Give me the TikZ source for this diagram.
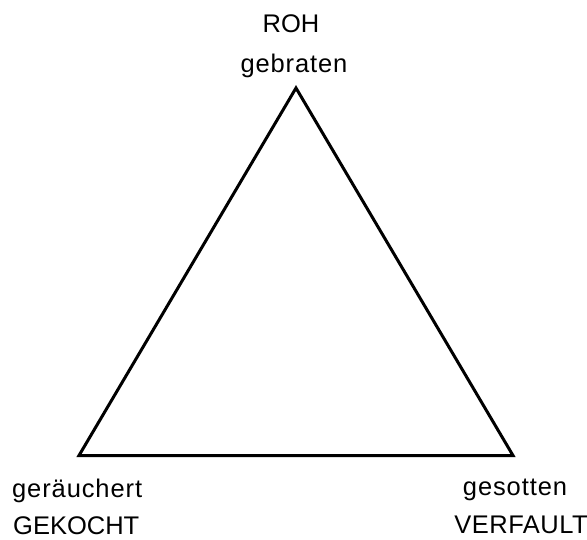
\documentclass[tikz,border=0pt]{standalone}
\usepackage{fontspec}
\setmainfont{Liberation Sans}
\begin{document}
\begin{tikzpicture}[x=1pt,y=-1pt,
  lbl/.style={inner sep=0pt,font=\fontsize{25.5}{30}\selectfont},
  lower/.style={lbl,font=\fontsize{25.5}{30}\selectfont\addfontfeature{LetterSpace=3.5}},
  tri/.style={line width=3pt,line join=miter}]
\useasboundingbox (0,0) rectangle (587,540);
\coordinate (A) at (296,88);
\coordinate (B) at (79,455.5);
\coordinate (C) at (513,455.5);
\draw[tri] (A) -- (B) -- (C) -- cycle;
\node[lbl,anchor=base] (roh) at (291,33) {ROH};
\node[lower,anchor=base] (geb) at (294,73) {gebraten};
\node[lower,anchor=base west] (ger) at (12,497) {geräuchert};
\node[lbl,anchor=base west] (gek) at (13,534) {GEKOCHT};
\node[lower,anchor=base] (ges) at (515,495) {gesotten};
\node[lbl,anchor=base east,font=\fontsize{25.5}{30}\selectfont\addfontfeature{LetterSpace=2}] (ver) at (588,533) {VERFAULT};
\end{tikzpicture}
\end{document}
